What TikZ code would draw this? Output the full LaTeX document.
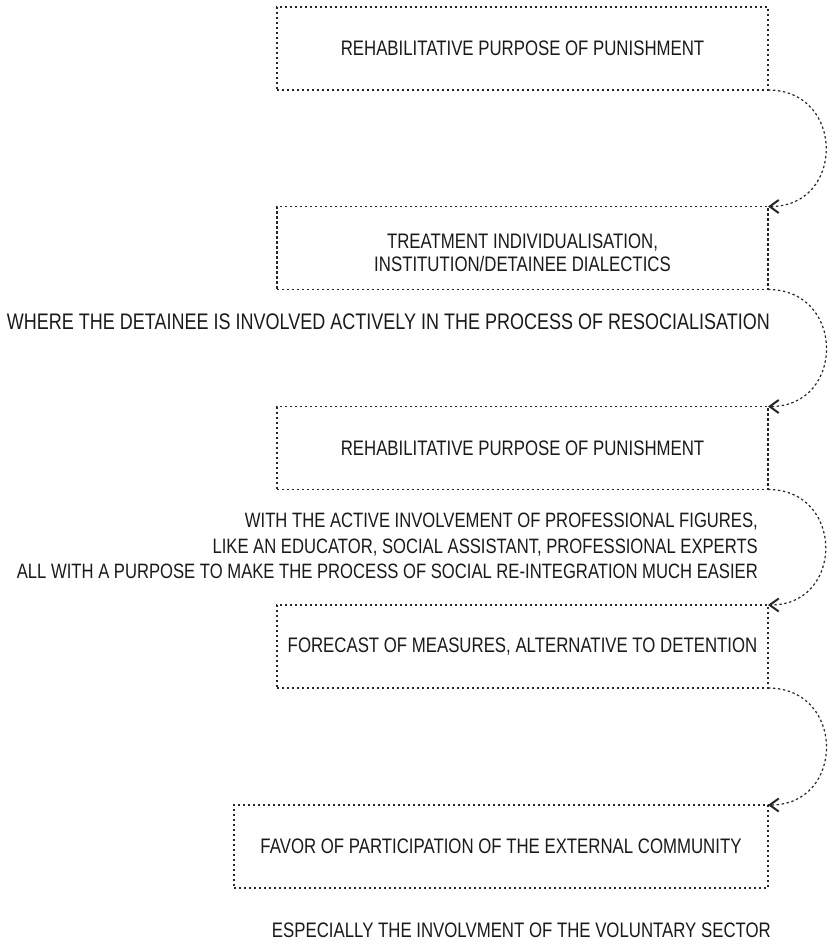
\documentclass[tikz,border=0pt]{standalone}
\usepackage{fontspec}
\setmainfont{Liberation Sans}[FakeStretch=0.8]
\usetikzlibrary{arrows.meta}
\definecolor{ink}{HTML}{1A1A1A}
\definecolor{rule}{HTML}{262626}
\begin{document}
\begin{tikzpicture}[x=1pt,y=-1pt,
  every node/.style={text=ink,font=\fontsize{21}{23}\selectfont},
  stage/.style={draw=rule,line width=1.2pt,dash pattern=on 2.4pt off 2.6pt,
    minimum height=83pt,inner sep=0pt,outer sep=0pt,align=center},
  note/.style={inner sep=0pt,align=right},
  link/.style={draw=rule,line width=1.2pt,dash pattern=on 2.4pt off 2.6pt,
    -{Straight Barb[length=9pt,width=13pt,line width=2pt]},
    out=0,in=0,looseness=1.7}]
\useasboundingbox (0,0) rectangle (828,941);

% stages
\node[stage,minimum width=491pt] (s1) at (522.5,48.5) {REHABILITATIVE PURPOSE OF PUNISHMENT};
\node[stage,minimum width=491pt] (s2) at (522.5,248) {};
\node[inner sep=0pt,align=center] (s2t) at ([yshift=-5pt]s2.center)
  {TREATMENT INDIVIDUALISATION,\\INSTITUTION/DETAINEE DIALECTICS};
\node[stage,minimum width=491pt] (s3) at (522.5,448) {REHABILITATIVE PURPOSE OF PUNISHMENT};
\node[stage,minimum width=491pt] (s4) at (522.5,646.5) {FORECAST OF MEASURES, ALTERNATIVE TO DETENTION};
\node[stage,minimum width=534pt] (s5) at (501,846.5) {FAVOR OF PARTICIPATION OF THE EXTERNAL COMMUNITY};

% notes between the stages
\node[note,anchor=east,font=\fontsize{22.5}{23}\selectfont] (n2) at (770,322)
  {WHERE THE DETAINEE IS INVOLVED ACTIVELY IN THE PROCESS OF RESOCIALISATION};
\node[note,anchor=east,font=\fontsize{20.8}{25.5}\selectfont] (n3) at (758,546)
  {WITH THE ACTIVE INVOLVEMENT OF PROFESSIONAL FIGURES,\\
   LIKE AN EDUCATOR, SOCIAL ASSISTANT, PROFESSIONAL EXPERTS\\
   ALL WITH A PURPOSE TO MAKE THE PROCESS OF SOCIAL RE-INTEGRATION MUCH EASIER};
\node[note,anchor=east] (n5) at (771,930)
  {ESPECIALLY THE INVOLVMENT OF THE VOLUNTARY SECTOR};

% looping connectors
\draw[link] (s1.south east) to (s2.north east);
\draw[link] (s2.south east) to (s3.north east);
\draw[link] (s3.south east) to (s4.north east);
\draw[link] (s4.south east) to (s5.north east);
\end{tikzpicture}
\end{document}
